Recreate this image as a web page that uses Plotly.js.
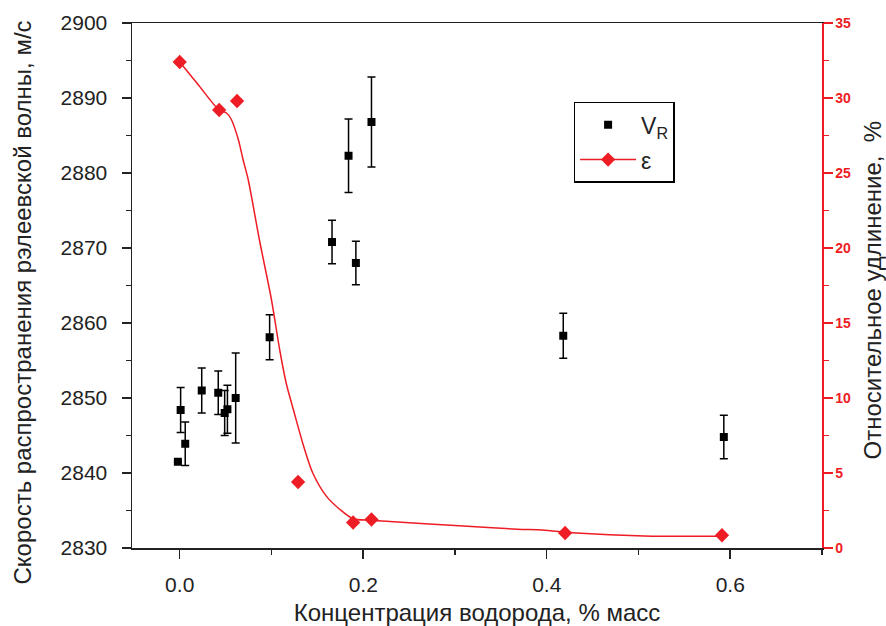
<!DOCTYPE html>
<html>
<head>
<meta charset="utf-8">
<script src="https://cdn.plot.ly/plotly-3.0.1.min.js"></script>
<style>html,body{margin:0;padding:0;background:#fff;}#chart{width:886px;height:626px;}</style>
</head>
<body>
<div id="chart"></div>
<script>
// Rayleigh wave velocity, m/s
const vrConc = [-0.002, 0.006, 0.001, 0.024, 0.042, 0.049, 0.052, 0.061, 0.098, 0.166, 0.184, 0.192, 0.209, 0.418, 0.593];
const vrValue = [2841.5, 2843.9, 2848.4, 2851.0, 2850.7, 2848.0, 2848.5, 2850.0, 2858.1, 2870.8, 2882.3, 2868.0, 2886.8, 2858.3, 2844.8];
const vrError = [0, 2.9, 3.0, 3.0, 2.9, 3.0, 3.2, 6.0, 3.0, 2.9, 4.9, 2.9, 6.0, 3.0, 2.9];

// Relative elongation, %
const epsConc = [0.0, 0.043, 0.0625, 0.129, 0.189, 0.209, 0.42, 0.591];
const epsValue = [32.4, 29.2, 29.8, 4.4, 1.7, 1.9, 1.0, 0.85];

// Fitted curve for elongation
const fitConc = [0.0, 0.02, 0.043, 0.051, 0.056, 0.064, 0.069, 0.0745, 0.087, 0.100, 0.109, 0.116, 0.124, 0.135, 0.145, 0.160, 0.175, 0.189, 0.207, 0.229, 0.30, 0.368, 0.395, 0.432, 0.506, 0.59];
const fitValue = [32.4, 30.9, 29.2, 29.0, 28.6, 27.2, 25.9, 24.6, 20.5, 16.55, 13.2, 11.0, 9.2, 6.8, 5.0, 3.44, 2.55, 1.95, 1.85, 1.77, 1.5, 1.25, 1.2, 1.0, 0.8, 0.78];

// Axis titles
const xTitle = 'Концентрация водорода, % масс';
const yTitle = 'Скорость распространения рэлеевской волны, м/с';
const y2Title = 'Относительное удлинение,\u00a0\u00a0%';

const RED = '#ee1c24';
const font = 'Liberation Sans, Arial, sans-serif';

const traces = [
  {
    x: vrConc, y: vrValue, type: 'scatter', mode: 'markers', name: 'V<sub>R</sub>',
    marker: {symbol: 'square', size: 8, color: '#000'},
    error_y: {type: 'data', array: vrError, visible: true, color: '#000', thickness: 1.5, width: 4},
    legendgroup: 'a', xaxis: 'x', yaxis: 'y'
  },
  {
    x: fitConc, y: fitValue, type: 'scatter', mode: 'lines', showlegend: false,
    line: {color: RED, width: 1.5, shape: 'spline', smoothing: 0.8},
    xaxis: 'x', yaxis: 'y2'
  },
  {
    x: epsConc, y: epsValue, type: 'scatter', mode: 'markers', showlegend: false,
    marker: {symbol: 'diamond', size: 11, color: RED},
    xaxis: 'x', yaxis: 'y2'
  },
  {
    x: [null], y: [null], type: 'scatter', mode: 'lines+markers', name: 'ε',
    line: {color: RED, width: 1.5}, marker: {symbol: 'diamond', size: 11, color: RED},
    legendgroup: 'b', xaxis: 'x', yaxis: 'y2'
  }
];

const layout = {
  width: 886, height: 626,
  margin: {l: 132, r: 64, t: 23, b: 78},
  paper_bgcolor: '#fff', plot_bgcolor: '#fff',
  font: {family: font, size: 20, color: '#222'},
  showlegend: true,
  legend: {
    x: 0.64, y: 0.85, xanchor: 'left', yanchor: 'top',
    bordercolor: '#000', borderwidth: 1.5, bgcolor: '#fff',
    font: {family: font, size: 23, color: '#222'},
    tracegroupgap: 2, traceorder: 'grouped', itemwidth: 56
  },
  xaxis: {
    range: [-0.052, 0.7], dtick: 0.2, tick0: 0, tickformat: '.1f',
    showline: true, linecolor: '#222', linewidth: 1.5, mirror: true,
    ticks: 'outside', ticklen: 9, tickwidth: 1.5, tickcolor: '#222',
    minor: {dtick: 0.1, ticks: 'outside', ticklen: 5, tickwidth: 1.5, tickcolor: '#222', showgrid: false},
    showgrid: false, zeroline: false, ticklabelstandoff: 8,
    tickfont: {family: font, size: 21, color: '#222'},
    title: {text: xTitle, font: {family: font, size: 24, color: '#222'}, standoff: 14}
  },
  yaxis: {
    range: [2830, 2900], dtick: 10,
    showline: true, linecolor: '#222', linewidth: 1.5,
    ticks: 'outside', ticklen: 9, tickwidth: 1.5, tickcolor: '#222',
    minor: {dtick: 5, ticks: 'outside', ticklen: 5, tickwidth: 1.5, tickcolor: '#222', showgrid: false},
    showgrid: false, zeroline: false, ticklabelstandoff: 10,
    tickfont: {family: font, size: 21, color: '#222'}
  },
  yaxis2: {
    range: [0, 35], dtick: 5, overlaying: 'y', side: 'right',
    showline: true, linecolor: RED, linewidth: 1.5,
    ticks: 'outside', ticklen: 9, tickwidth: 1.5, tickcolor: RED,
    minor: {dtick: 2.5, ticks: 'outside', ticklen: 5, tickwidth: 1.5, tickcolor: RED, showgrid: false},
    showgrid: false, zeroline: false,
    tickfont: {family: font, size: 14, color: RED, weight: 'bold'}
  },
  annotations: [
    {text: yTitle, textangle: -90, xref: 'paper', yref: 'paper', x: 0, y: 0.5,
     xanchor: 'center', yanchor: 'middle', xshift: -110, yshift: -17, showarrow: false,
     font: {family: font, size: 24, color: '#222'}},
    {text: y2Title, textangle: -90, xref: 'paper', yref: 'paper', x: 1, y: 0.5,
     xanchor: 'center', yanchor: 'middle', xshift: 50, yshift: -5, showarrow: false,
     font: {family: font, size: 24, color: '#222'}}
  ]
};

Plotly.newPlot('chart', traces, layout, {staticPlot: true, displayModeBar: false});
</script>
</body>
</html>
